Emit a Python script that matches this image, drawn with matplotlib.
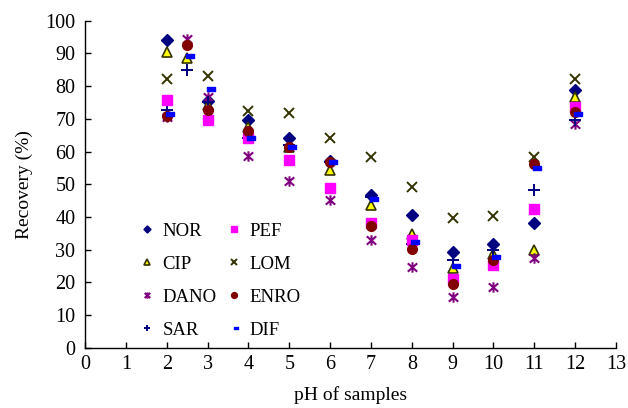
import matplotlib
matplotlib.use("Agg")
import matplotlib.pyplot as plt
from matplotlib.path import Path
import numpy as np

plt.rcParams['font.family'] = ['Liberation Serif', 'DejaVu Serif']

# pH values per series
ph_nor = [2, 3, 4, 5, 6, 7, 8, 9, 10, 11, 12]
nor = [94, 75.5, 69.8, 64.3, 57, 46.6, 40.5, 29.2, 31.6, 38.1, 78.8]

ph_pef = [2, 3, 4, 5, 6, 7, 8, 9, 10, 11, 12]
pef = [75.8, 69.7, 64, 57.4, 49, 38.1, 32.8, 21.1, 25.2, 42.3, 73.7]

ph_cip = [2, 2.5, 3, 4, 5, 6, 7, 8, 9, 10, 11, 12]
cip = [90.5, 88.7, 74.2, 67.6, 61.5, 54.3, 43.6, 34.9, 24.4, 28.7, 30, 76.6]

ph_lom = [2, 3, 4, 5, 6, 7, 8, 9, 10, 11, 12]
lom = [82.3, 83.1, 72.5, 71.7, 64.3, 58.3, 49.2, 39.7, 40.3, 58.2, 82.1]

ph_dano = [2, 2.5, 3, 4, 5, 6, 7, 8, 9, 10, 11, 12]
dano = [70.5, 94.5, 76.8, 58.7, 50.9, 45.3, 33.0, 24.6, 15.4, 18.7, 27.5, 68.3]

ph_enro = [2, 2.5, 3, 4, 5, 6, 7, 8, 9, 10, 11, 12]
enro = [70.8, 92.6, 72.7, 66.4, 61.3, 56.8, 37.1, 30.1, 19.5, 26.7, 56.3, 72]

ph_sar = [2, 2.5, 3, 4, 5, 6, 7, 8, 9, 10, 11, 12]
sar = [72.7, 85, 75.3, 64, 62, 56.8, 46, 31.6, 26.9, 30, 48.2, 69.8]

ph_dif = [2, 2.5, 3, 4, 5, 6, 7, 8, 9, 10, 11, 12]
dif = [71.5, 89.3, 79.1, 64.1, 61.3, 56.8, 45.6, 32.3, 24.9, 27.7, 55.1, 71.5]

xticks = list(range(0, 14))
yticks = list(range(0, 101, 10))

# dash marker slightly offset to the right
dash = Path([(-0.1, -0.22), (1.0, -0.22), (1.0, 0.22), (-0.1, 0.22), (-0.1, -0.22)],
            [Path.MOVETO, Path.LINETO, Path.LINETO, Path.LINETO, Path.CLOSEPOLY])

# asterisk: X plus vertical bar
star = Path([(-0.9, -0.8), (0.9, 0.8), (-0.9, 0.8), (0.9, -0.8), (0, -1), (0, 1)],
            [Path.MOVETO, Path.LINETO, Path.MOVETO, Path.LINETO, Path.MOVETO, Path.LINETO])

fig = plt.figure(figsize=(6.28, 4.08), dpi=100)
ax = fig.add_axes([0.1354, 0.1478, 0.9809 - 0.1354, 0.949 - 0.1478])

h_nor, = ax.plot(ph_nor, nor, ls='none', marker='D', ms=6, color='#000080', label='NOR')
h_cip, = ax.plot(ph_cip, cip, ls='none', marker='^', ms=7.5, mfc='#FFFF00', mec='#333300', mew=1.2, label='CIP')
h_dano, = ax.plot(ph_dano, dano, ls='none', marker=star, ms=7.5, color='#800080', mew=1.5, label='DANO')
h_sar, = ax.plot(ph_sar, sar, ls='none', marker='+', ms=8, color='#000080', mew=1.4, label='SAR')
h_pef, = ax.plot(ph_pef, pef, ls='none', marker='s', ms=6.5, color='#FF00FF', label='PEF')
h_lom, = ax.plot(ph_lom, lom, ls='none', marker='x', ms=7.5, color='#333300', mew=1.4, label='LOM')
h_enro, = ax.plot(ph_enro, enro, ls='none', marker='o', ms=7, color='#800000', label='ENRO')
h_dif, = ax.plot(ph_dif, dif, ls='none', marker=dash, ms=10, color='#0000FF', label='DIF')

ax.set_xlim(0, 13)
ax.set_ylim(0, 100)
ax.set_xticks(xticks)
ax.set_yticks(yticks)
ax.spines['top'].set_visible(False)
ax.spines['right'].set_visible(False)
ax.tick_params(direction='in', length=4, labelsize=14.5, width=1)
ax.tick_params(axis='y', pad=7)
ax.tick_params(axis='x', pad=5)
for s in ('left', 'bottom'):
    ax.spines[s].set_linewidth(1.0)

ax.set_xlabel('pH of samples', fontsize=14, labelpad=9)
ax.set_ylabel('Recovery (%)', fontsize=14, labelpad=9)

handles = [h_nor, h_cip, h_dano, h_sar, h_pef, h_lom, h_enro, h_dif]
ax.legend(handles=handles, ncol=2, frameon=False, fontsize=13.5, markerscale=0.6,
          loc='lower left', bbox_to_anchor=(0.07, -0.025), labelspacing=0.85,
          handlelength=0.8, handletextpad=0.45, columnspacing=0.5)

fig.savefig('out.png', dpi=100)
